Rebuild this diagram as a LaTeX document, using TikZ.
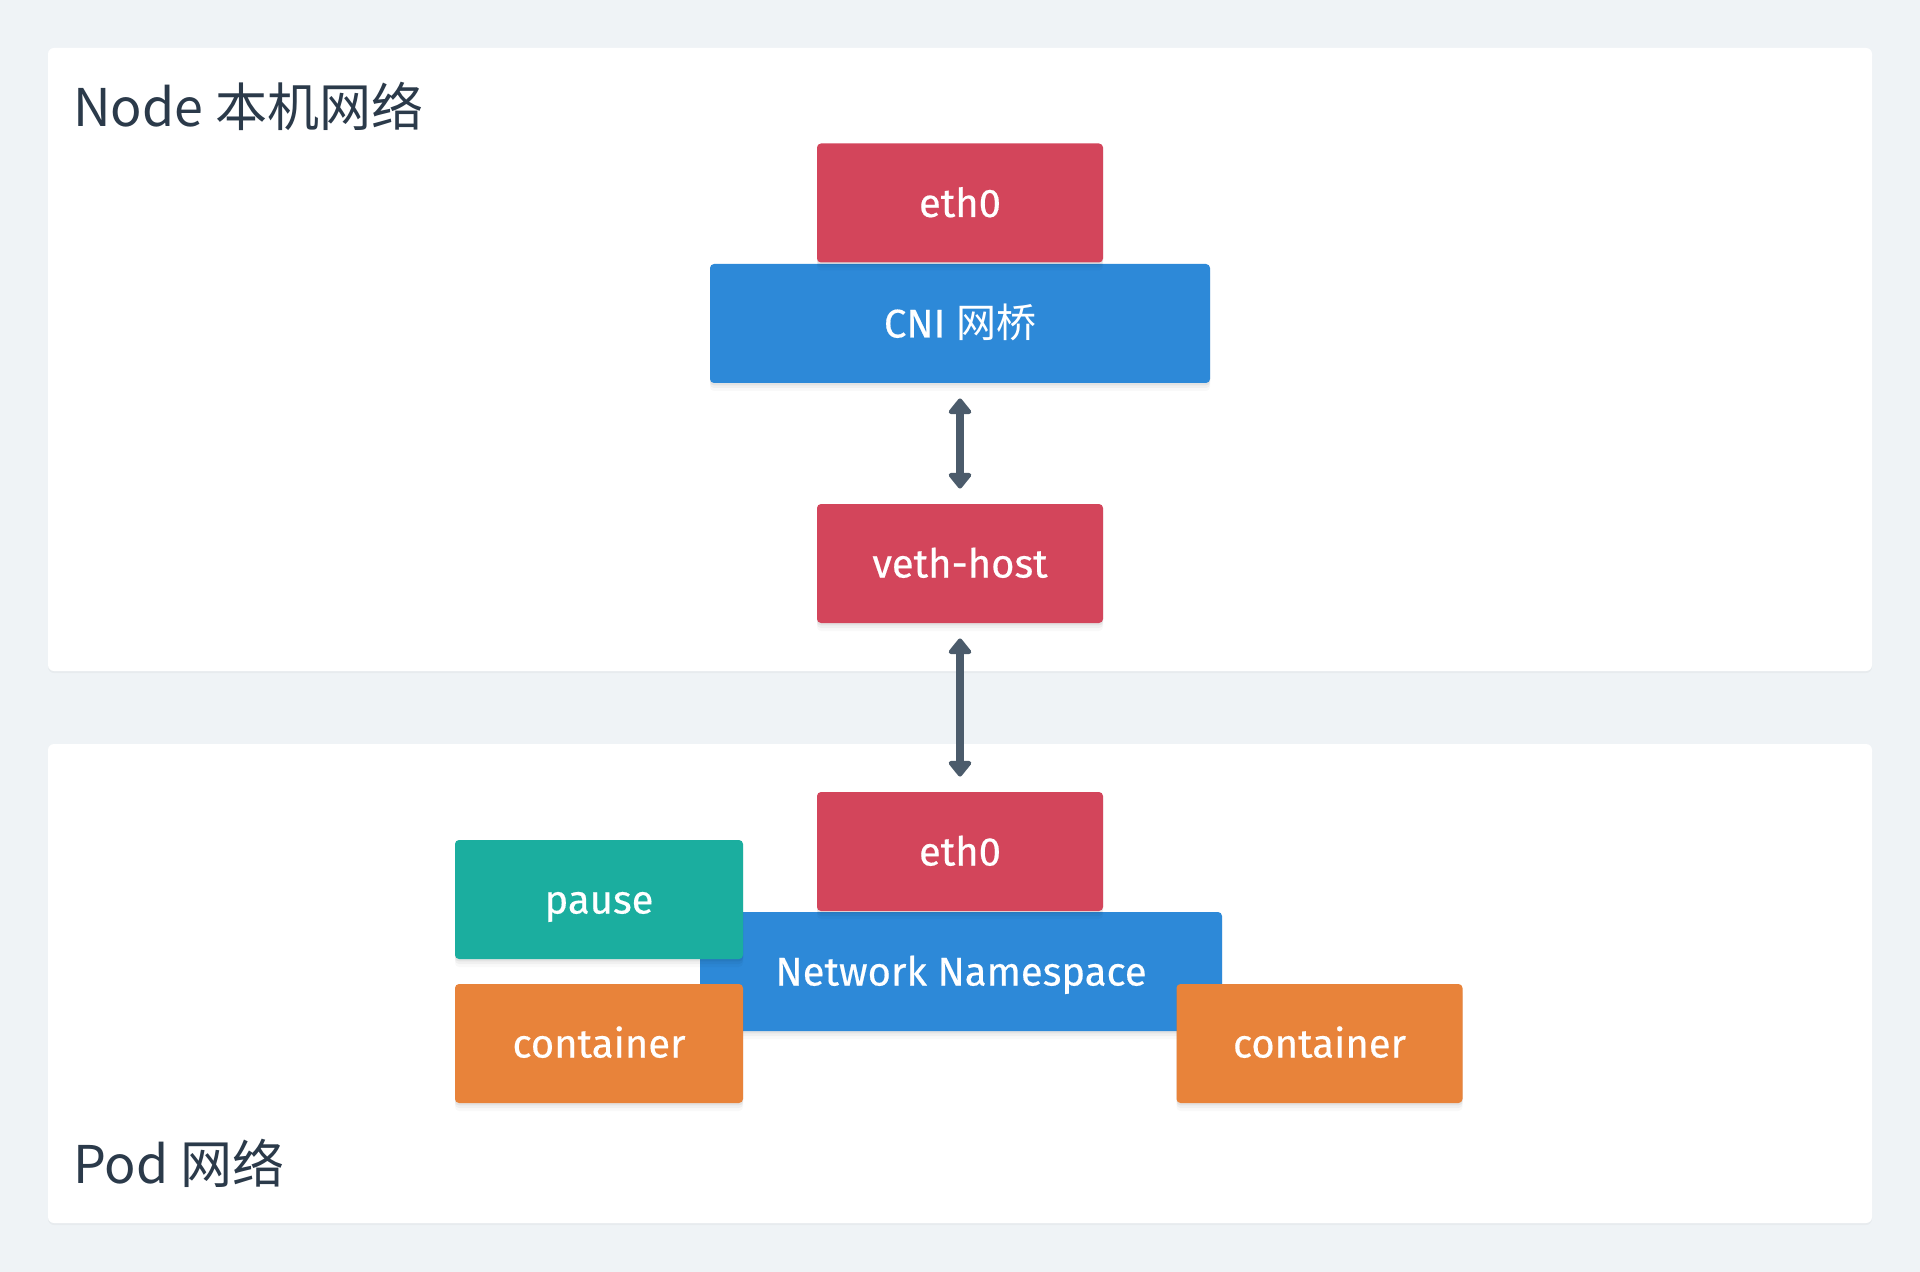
\documentclass[tikz,border=0pt]{standalone}
\usepackage{fontspec}
\setmainfont{Fira Sans}
\newfontfamily\cjk{Noto Sans CJK SC}
\newfontfamily\boxfont[FakeBold=0.4]{Fira Sans}
\usetikzlibrary{arrows.meta,shadows}
\definecolor{bg}{HTML}{EFF3F6}
\definecolor{redbox}{HTML}{D3455B}
\definecolor{bluebox}{HTML}{2D89D8}
\definecolor{tealbox}{HTML}{1BAE9F}
\definecolor{orangebox}{HTML}{E8833A}
\definecolor{titlec}{HTML}{2B3A4A}
\definecolor{arrowc}{HTML}{4B5B6B}
\tikzset{
  panel/.style={fill=white, rounded corners=3pt, inner sep=0pt,
    general shadow={fill=black, opacity=0.03, shadow yshift=-1pt}},
  box/.style={rounded corners=2pt, inner sep=0pt, text=white,
    font=\boxfont\fontsize{20pt}{24pt}\selectfont,
    text height=14pt, text depth=0pt,
    minimum width=143pt, minimum height=59.5pt,
    general shadow={fill=black, opacity=0.025, shadow yshift=-4pt},
    general shadow={fill=black, opacity=0.035, shadow yshift=-2.5pt},
    general shadow={fill=black, opacity=0.05, shadow yshift=-1.2pt}},
  redb/.style={box, fill=redbox},
  blueb/.style={box, fill=bluebox},
  tealb/.style={box, fill=tealbox},
  orangeb/.style={box, fill=orangebox},
  title/.style={anchor=base west, inner sep=0pt, text=titlec, font=\cjk\fontsize{26pt}{30pt}\selectfont},
  link/.style={draw=arrowc, line width=4pt,
    {Triangle[width=13pt,length=8.5pt,round]}-{Triangle[width=13pt,length=8.5pt,round]},
    shorten <=7.5pt, shorten >=7.5pt}
}
\begin{document}
\begin{tikzpicture}[x=0.5pt,y=-0.5pt]
\fill[bg] (0,0) rectangle (1920,1272);
\useasboundingbox (0,0) rectangle (1920,1272);

\node[panel, minimum width=912pt, minimum height=311.5pt] (nodepanel) at (960,359.5) {};
\node[panel, minimum width=912pt, minimum height=239.5pt] (podpanel) at (960,983.5) {};

\node[title] (nodetitle) at (73,127) {Node 本机网络};
\node[title] (podtitle) at (73,1183) {Pod 网络};

\node[blueb, minimum width=250pt] (cni) at (960,323.5) {CNI {\cjk 网桥}};
\node[redb] (eth0top) at (960,203) {eth0};
\node[redb] (veth) at (960,563.5) {veth-host};

\node[blueb, minimum width=261pt] (nn) at (961,971.5) {Network Namespace};
\node[redb] (eth0pod) at (960,851.5) {eth0};
\node[tealb, minimum width=144pt] (pause) at (599,899.5) {pause};
\node[orangeb, minimum width=144pt] (contL) at (599,1043.5) {container};
\node[orangeb] (contR) at (1319.5,1043.5) {container};

\draw[link] (cni.south) -- (veth.north);
\draw[link] (veth.south) -- (eth0pod.north);
\end{tikzpicture}
\end{document}
